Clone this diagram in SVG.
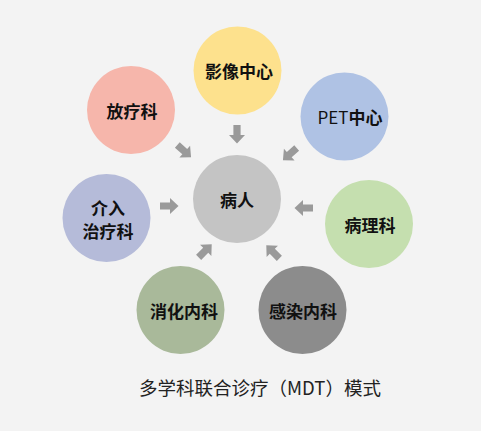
<svg xmlns="http://www.w3.org/2000/svg" width="481" height="431" viewBox="0 0 481 431">
<defs>
<style>
.lbl{font-family:"Noto Sans CJK SC","Noto Sans",sans-serif;font-size:17px;font-weight:bold;fill:#111;text-anchor:middle}
.cap{font-family:"Noto Sans CJK SC","Noto Sans",sans-serif;font-size:18.5px;fill:#222;text-anchor:middle}
.arr{fill:#9a9a9a}
</style>
<path id="ar" d="M-9,-3.6 H1 V-8 L9.5,0 L1,8 V3.6 H-9 Z"/>
</defs>
<rect width="481" height="431" fill="#f3f3f3"/>
<g id="connectors" class="arr">
<use href="#ar" transform="translate(237,134) rotate(90)"/>
<use href="#ar" transform="translate(184,151) rotate(42)"/>
<use href="#ar" transform="translate(290,154) rotate(138)"/>
<use href="#ar" transform="translate(169,206) rotate(0)"/>
<use href="#ar" transform="translate(304,208) rotate(180)"/>
<use href="#ar" transform="translate(205,251) rotate(-45)"/>
<use href="#ar" transform="translate(273,252) rotate(-135)"/>
</g>
<g id="patient"><circle cx="237" cy="199" r="44" fill="#c4c4c4"/><text class="lbl" x="237" y="207">病人</text></g>
<g id="imaging"><circle cx="237.5" cy="70.5" r="44" fill="#fde18d"/><text class="lbl" x="239" y="78">影像中心</text></g>
<g id="radio"><circle cx="131" cy="110" r="44" fill="#f6b6ab"/><text class="lbl" x="132" y="118">放疗科</text></g>
<g id="pet"><circle cx="344.5" cy="116.5" r="44" fill="#afc2e4"/><text class="lbl" x="350" y="124"><tspan font-weight="normal">PET</tspan>中心</text></g>
<g id="interv"><circle cx="106.5" cy="218" r="44" fill="#b5bbd9"/><text class="lbl" x="108" y="215">介入</text><text class="lbl" x="108" y="238">治疗科</text></g>
<g id="patho"><circle cx="369" cy="224" r="44" fill="#c5dfaf"/><text class="lbl" x="370" y="232">病理科</text></g>
<g id="gastro"><circle cx="180.5" cy="310" r="44" fill="#a9b99a"/><text class="lbl" x="184" y="318">消化内科</text></g>
<g id="infect"><circle cx="302.5" cy="310" r="44" fill="#8c8c8c"/><text class="lbl" x="303" y="318">感染内科</text></g>
<text class="cap" x="260" y="395">多学科联合诊疗（MDT）模式</text>
</svg>
